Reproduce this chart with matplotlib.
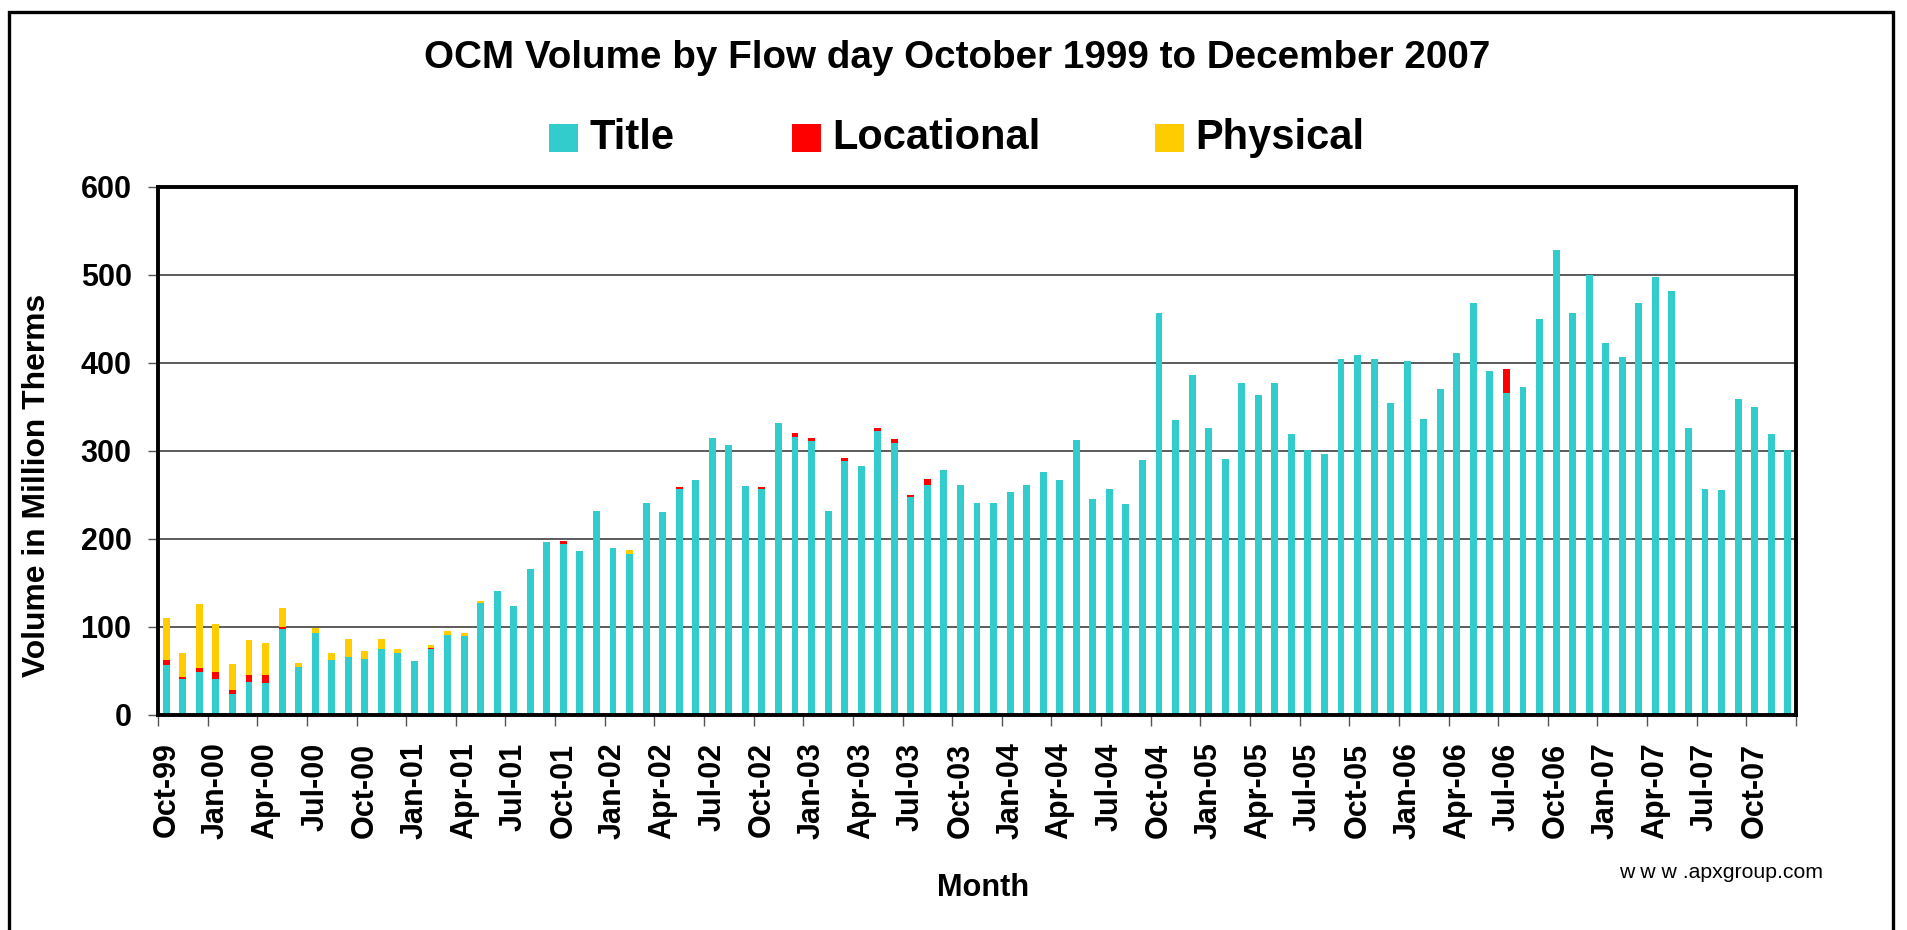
import matplotlib
matplotlib.use('Agg')
import matplotlib.pyplot as plt
from matplotlib.patches import Rectangle
import numpy as np
import pandas as pd

# ---------------- data ----------------
months = pd.date_range('1999-10-01', periods=99, freq='MS').strftime('%b-%y').tolist()

title_vol = [
    57, 41, 49, 41, 24, 37.5, 36, 97, 54, 93, 62, 66,
    63.5, 75, 70, 61.5, 75, 91, 90, 127, 141, 123, 166, 196,
    194.5, 186.5, 232, 189, 183, 241, 230, 256, 266.5, 314, 307, 260,
    256, 331, 315, 311, 232, 288, 282.5, 322, 308.5, 247, 260.5, 277.5,
    261.5, 241, 241, 253, 261.5, 275.5, 266.5, 312, 245.5, 257, 239, 289,
    456.5, 335, 386, 325.5, 291, 376.5, 363, 376.5, 319, 300.5, 296, 404,
    408.5, 404, 354, 402, 336, 370, 411, 468, 390, 365.5, 372.5, 450,
    527.5, 456.5, 500, 422, 406.5, 468, 497.5, 482, 325.5, 257, 255, 359,
    349.5, 319, 300.5,
]
locational_vol = [
    5.6, 2.4, 3.6, 7.0, 3.6, 8.0, 9.0, 3.0, 0, 0, 0, 0,
    0, 0, 0, 0, 1.2, 0, 0, 0, 0, 0, 0, 0,
    2.4, 0, 0, 0, 0, 0, 0, 2.4, 0, 0, 0, 0,
    2.4, 0, 4.8, 3.2, 0, 3.3, 0, 3.6, 4.8, 2.4, 7.2, 0,
    0, 0, 0, 0, 0, 0, 0, 0, 0, 0, 0, 0,
    0, 0, 0, 0, 0, 0, 0, 0, 0, 0, 0, 0,
    0, 0, 0, 0, 0, 0, 0, 0, 0, 27, 0, 0,
    0, 0, 0, 0, 0, 0, 0, 0, 0, 0, 0, 0,
    0, 0, 0,
]
physical_vol = [
    47, 27, 73, 55, 29.5, 39, 36.5, 21, 5, 5, 8, 20,
    9, 11, 5, 0, 3.2, 4.4, 3, 2.5, 0, 0, 0, 0,
    0, 0, 0, 0, 4.4, 0, 0, 0, 0, 0, 0, 0,
    0, 0, 0, 0, 0, 0, 0, 0, 0, 0, 0, 0,
    0, 0, 0, 0, 0, 0, 0, 0, 0, 0, 0, 0,
    0, 0, 0, 0, 0, 0, 0, 0, 0, 0, 0, 0,
    0, 0, 0, 0, 0, 0, 0, 0, 0, 0, 0, 0,
    0, 0, 0, 0, 0, 0, 0, 0, 0, 0, 0, 0,
    0, 0, 0,
]
series_names = ['Title', 'Locational', 'Physical']
series_colors = ['#33CCCC', '#FF0000', '#FFCC00']
y_ticks = [0, 100, 200, 300, 400, 500, 600]

chart_title = 'OCM Volume by Flow day October 1999 to December 2007'
x_label = 'Month'
y_label = 'Volume in Million Therms'
credit = 'w w w .apxgroup.com'

# ---------------- figure ----------------
plt.rcParams['font.family'] = ['Liberation Sans', 'DejaVu Sans']
W, H = 1907, 930
fig = plt.figure(figsize=(W / 100, H / 100), dpi=100)
fig.patch.set_facecolor('white')

def fx(px):
    return px / W

def fy(py):
    return 1 - py / H

# outer frame
fig.add_artist(Rectangle((fx(9), fy(960)), fx(1893) - fx(9), fy(12) - fy(960),
                         transform=fig.transFigure, fill=False,
                         edgecolor='black', linewidth=2.4))

left, right, top, bottom = 158, 1796, 186.7, 714.7
ax = fig.add_axes([fx(left), fy(bottom), fx(right) - fx(left), fy(top) - fy(bottom)])

x = np.arange(len(months))
t = np.array(title_vol, dtype=float)
l = np.array(locational_vol, dtype=float)
p = np.array(physical_vol, dtype=float)
bw = 0.42
ax.bar(x, t, bw, color=series_colors[0], label=series_names[0], zorder=3, linewidth=0)
ax.bar(x, l, bw, bottom=t, color=series_colors[1], label=series_names[1], zorder=3, linewidth=0)
ax.bar(x, p, bw, bottom=t + l, color=series_colors[2], label=series_names[2], zorder=3, linewidth=0)

ax.set_xlim(-0.5, len(months) - 0.5)
ax.set_ylim(0, 600)
ax.set_yticks(y_ticks)
ax.set_yticklabels([str(v) for v in y_ticks], fontsize=22, fontweight='bold')
ax.yaxis.grid(True, color='#404040', linewidth=1.2, zorder=1)
ax.set_axisbelow(True)
for s in ax.spines.values():
    s.set_linewidth(2.8)
    s.set_color('black')
    s.set_zorder(5)
ax.tick_params(axis='y', direction='out', length=7, width=1.0, color='#555555', pad=12)

major = x[::3]
ax.set_xticks(major)
ax.set_xticklabels([months[i] for i in major], rotation=90, fontsize=22,
                   fontweight='bold', ha='center', va='top')
ax.set_xticks(np.arange(-0.5, len(months), 3), minor=True)
ax.tick_params(axis='x', which='major', length=0, pad=20)
ax.tick_params(axis='x', which='minor', direction='out', length=8, width=1.0, color='#555555')

# texts
title_t = fig.text(fx(957), fy(58), chart_title, ha='center', va='center',
                   fontsize=26, fontweight='bold')
ylab = fig.text(fx(37), fy(485), y_label, ha='center', va='center', rotation=90,
                fontsize=20, fontweight='bold')
xlab = fig.text(fx(983), fy(888), x_label, ha='center', va='center',
                fontsize=22, fontweight='bold')
cred = fig.text(fx(1721), fy(872), credit, ha='center', va='center', fontsize=15)

# legend (manual placement)
leg_patches = [(549, 578), (792, 821), (1155, 1184)]
leg_text_x = [590, 832, 1195]
for (x0, x1), tx, name, col in zip(leg_patches, leg_text_x, series_names, series_colors):
    fig.add_artist(Rectangle((fx(x0), fy(152)), fx(x1) - fx(x0), fy(124) - fy(152),
                             transform=fig.transFigure, facecolor=col, edgecolor='none'))
    fig.text(fx(tx), fy(138), name, ha='left', va='center', fontsize=30, fontweight='bold')

fig.canvas.draw()
r = fig.canvas.get_renderer()

def fit(txt, target, use_height=False):
    bb = txt.get_window_extent(r)
    cur = bb.height if use_height else bb.width
    txt.set_fontsize(txt.get_fontsize() * target / cur)

fit(title_t, 1065)
fit(ylab, 382, use_height=True)
fit(xlab, 92)
fit(cred, 205)

fig.savefig('out.png', dpi=100, facecolor='white')
